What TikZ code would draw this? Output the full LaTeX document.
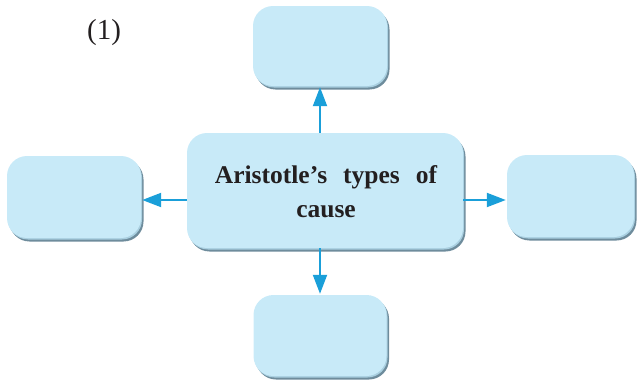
\documentclass[tikz,border=0pt]{standalone}
\usepackage{fontspec}
\setmainfont{Liberation Serif}
\usetikzlibrary{arrows.meta}
\definecolor{boxfill}{HTML}{C8EAF8}
\definecolor{boxedge}{HTML}{A9CFE0}
\definecolor{boxshadow}{HTML}{6E8C9C}
\definecolor{arrowc}{HTML}{1A9FD9}
\definecolor{txt}{HTML}{231F20}
\tikzset{
  cbox/.style={rectangle, rounded corners=20pt, inner sep=0pt, fill=boxfill,
    preaction={fill=boxshadow, transform canvas={xshift=2.5pt,yshift=-3.5pt}},
    preaction={fill=boxedge, transform canvas={xshift=1pt,yshift=-1.5pt}}},
  conn/.style={draw=arrowc, line width=2pt, -{Triangle[length=19pt,width=14pt]}, shorten >=1pt}
}
\begin{document}
\begin{tikzpicture}[x=1pt,y=-1pt]
\useasboundingbox (0,0) rectangle (638,380);
\node[cbox, minimum width=276pt, minimum height=115pt] (c) at (325,190.5) {};
\node[cbox, minimum width=134pt, minimum height=80pt] (t) at (320,46) {};
\node[cbox, minimum width=134pt, minimum height=82pt] (l) at (74,197) {};
\node[cbox, minimum width=127pt, minimum height=82pt] (r) at (570.5,196) {};
\node[cbox, minimum width=133pt, minimum height=81pt] (b) at (320,335.5) {};
\node[font=\fontsize{25.5}{34}\selectfont\bfseries, align=center, text=txt] (ct) at (326,192)
  {Aristotle’s\hspace{16pt}types\hspace{16pt}of\\cause};
\node[font=\fontsize{29}{32}\selectfont, text=txt] (lab) at (104,33) {(1)};
\draw[conn] (t.south |- c.north) -- (t.south);
\draw[conn] (b.north |- c.south) -- (b.north);
\draw[conn] (c.west |- 0,200) -- (l.east |- 0,200);
\draw[conn] (c.east |- 0,200) -- (r.west |- 0,200);
\end{tikzpicture}
\end{document}
